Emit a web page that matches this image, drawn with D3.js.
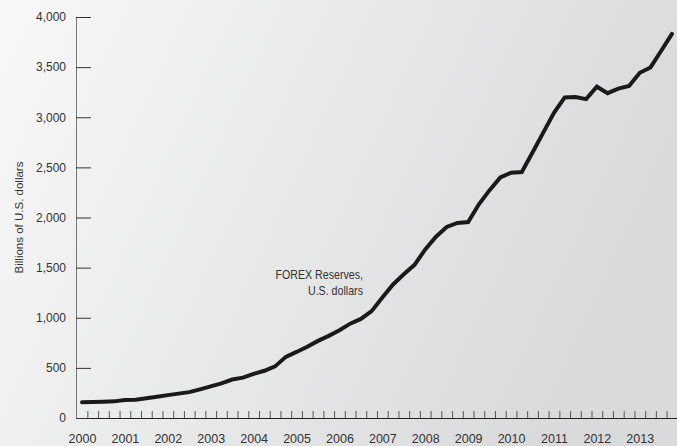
<!DOCTYPE html>
<html>
<head>
<meta charset="utf-8">
<script src="https://cdn.jsdelivr.net/npm/d3@7"></script>
<style>
  body { margin: 0; }
  #chart svg { display: block; }
  .tick text { font-family: "Liberation Sans", Arial, sans-serif; fill: #333; }
</style>
</head>
<body>
<div id="chart"></div>
<script>
// quarterly, 2000 Q1 .. 2013 Q4, billions of U.S. dollars
const years = [2000, 2001, 2002, 2003, 2004, 2005, 2006, 2007, 2008, 2009, 2010, 2011, 2012, 2013];
const reserves = [
  157, 159, 163, 166,
  180, 182, 196, 212,
  228, 243, 258, 286,
  316, 346, 384, 403,
  440, 471, 515, 610,
  659, 711, 769, 819,
  875, 941, 988, 1066,
  1202, 1332, 1434, 1528,
  1682, 1809, 1906, 1946,
  1954, 2132, 2273, 2399,
  2447, 2454, 2648, 2847,
  3045, 3198, 3202, 3181,
  3305, 3240, 3285, 3312,
  3443, 3497, 3663, 3831
];
const yTicks = [0, 500, 1000, 1500, 2000, 2500, 3000, 3500, 4000];
const seriesLabel = ["FOREX Reserves,", "U.S. dollars"];

var w = 677,
	h = 446;

const svg = d3.select("#chart")
	.append("svg")
	.attr("width", w)
	.attr("height", h);

const grad = svg.append("defs")
	.append("linearGradient")
	.attr("id", "bg")
	.attr("x1", "0").attr("y1", "0")
	.attr("x2", "1").attr("y2", "0.3");
grad.append("stop").attr("offset", "0").attr("stop-color", "#f8f8f8");
grad.append("stop").attr("offset", "1").attr("stop-color", "#d9dadb");

svg.append("rect")
	.attr("width", w)
	.attr("height", h)
	.attr("fill", "url(#bg)");

const xScale = d3.scaleLinear()
	.domain([-0.56, reserves.length - 0.53])
	.range([76, 677]);

const yScale = d3.scaleLinear()
	.domain([0, 4000])
	.range([418, 17]);

// quarter ticks between data points
const xAxis = svg.append("g")
	.attr("transform", "translate(0, 418)")
	.call(d3.axisBottom(xScale)
		.tickValues(d3.range(reserves.length - 1).map((i) => i + 0.5))
		.tickSize(-7)
		.tickSizeOuter(0)
		.tickFormat(""));
xAxis.select(".domain").attr("stroke", "#222");
xAxis.selectAll(".tick line").attr("stroke", "#555");

// year labels at first quarter of each year
svg.append("g")
	.attr("transform", "translate(0, 418)")
	.call(d3.axisBottom(xScale)
		.tickValues(years.map((y, i) => i * 4))
		.tickSize(0)
		.tickPadding(16)
		.tickFormat((d) => years[d / 4]))
	.call((g) => g.select(".domain").remove())
	.selectAll("text")
	.attr("font-size", 12.5);

const yAxis = svg.append("g")
	.attr("transform", "translate(76, 0)")
	.call(d3.axisLeft(yScale)
		.tickValues(yTicks)
		.tickSize(-15)
		.tickSizeOuter(0)
		.tickPadding(10)
		.tickFormat(d3.format(",")));
yAxis.select(".domain").attr("stroke", "#777");
yAxis.selectAll(".tick line").attr("stroke", "#333");
yAxis.selectAll("text").attr("font-size", 12);

svg.append("text")
	.attr("transform", "translate(23, 217.5) rotate(-90)")
	.attr("text-anchor", "middle")
	.attr("font-family", "Liberation Sans, Arial, sans-serif")
	.attr("font-size", 11.5)
	.attr("fill", "#333")
	.text("Billions of U.S. dollars");

const line = d3.line()
	.x((d, i) => xScale(i))
	.y((d) => yScale(d));

svg.append("path")
	.datum(reserves)
	.attr("d", line)
	.attr("fill", "none")
	.attr("stroke", "#1a1a1a")
	.attr("stroke-width", 4)
	.attr("stroke-linejoin", "miter")
	.attr("stroke-linecap", "round");

// condensed label: squeeze the regular face horizontally
const label = svg.append("text")
	.attr("transform", "translate(363, 0) scale(0.82, 1)")
	.attr("font-family", "Liberation Sans, Arial, sans-serif")
	.attr("font-size", 13)
	.attr("fill", "#333")
	.attr("text-anchor", "end");
label.selectAll("tspan")
	.data(seriesLabel)
	.enter()
	.append("tspan")
	.attr("x", 0)
	.attr("y", (d, i) => 279 + i * 16)
	.text((d) => d);
</script>
</body>
</html>
